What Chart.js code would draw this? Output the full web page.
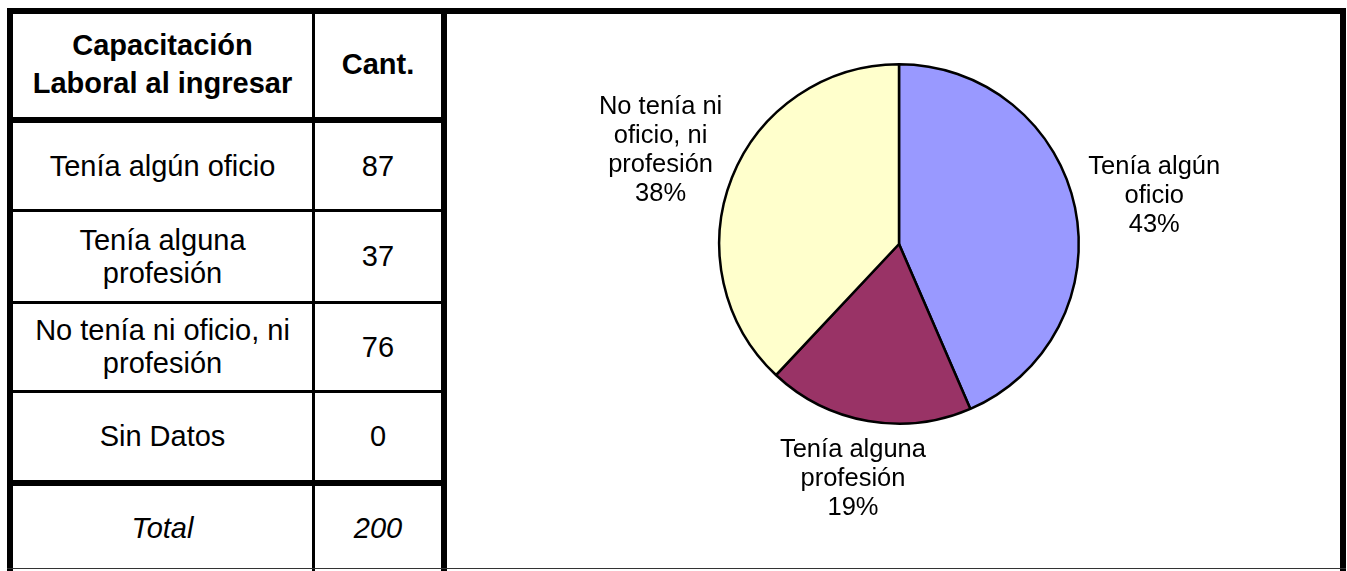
<!DOCTYPE html>
<html>
<head>
<meta charset="utf-8">
<script src="https://cdn.jsdelivr.net/npm/chart.js"></script>
<style>
body { margin: 0; background: #fff; font-family: "Liberation Sans", Arial, sans-serif; }
#hoja { position: relative; width: 1347px; height: 571px; overflow: hidden; background: #fff; }
.celda { position: absolute; display: flex; align-items: center; justify-content: center; text-align: center;
         font-size: 29px; line-height: 33px; color: #000; box-sizing: border-box; padding: 0 10px; }
.titulo { font-weight: bold; line-height: 38px; }
.total { font-style: italic; }
.linea { position: absolute; background: #000; }
#grafico { position: absolute; left: 447px; top: 14px; }
</style>
</head>
<body>
<div id="hoja">
  <canvas id="grafico" width="893" height="554"></canvas>
</div>
<script>
const encabezados = ["Capacitación Laboral al ingresar", "Cant."];
const categorias = ["Tenía algún oficio", "Tenía alguna profesión", "No tenía ni oficio, ni profesión", "Sin Datos"];
const cantidades = [87, 37, 76, 0];
const porcentajes = [43, 19, 38, 0];
const etiquetaTotal = "Total";
const total = 200;
const colores = ["#9999FF", "#993366", "#FFFFCC", "#CCFFFF"];

const hoja = document.getElementById('hoja');

// filas de la tabla (arriba, abajo)
const filas = [[14, 117], [123, 209], [212, 301], [304, 390], [393, 480], [486, 571]];
const col1 = [13, 312];
const col2 = [315, 441];

function celda(texto, x0, x1, y0, y1, clase) {
    const d = document.createElement('div');
    d.className = 'celda' + (clase ? ' ' + clase : '');
    d.style.left = x0 + 'px';
    d.style.top = y0 + 'px';
    d.style.width = (x1 - x0) + 'px';
    d.style.height = (y1 - y0) + 'px';
    d.textContent = texto;
    hoja.appendChild(d);
}

function linea(x, y, w, h, color) {
    const d = document.createElement('div');
    d.className = 'linea';
    d.style.left = x + 'px';
    d.style.top = y + 'px';
    d.style.width = w + 'px';
    d.style.height = h + 'px';
    if (color) d.style.background = color;
    hoja.appendChild(d);
}

celda(encabezados[0], col1[0], col1[1], filas[0][0], filas[0][1] - 3, 'titulo');
celda(encabezados[1], col2[0], col2[1], filas[0][0], filas[0][1] - 3, 'titulo');
categorias.forEach((c, i) => {
    celda(c, col1[0], col1[1], filas[i + 1][0], filas[i + 1][1]);
    celda(String(cantidades[i]), col2[0], col2[1], filas[i + 1][0], filas[i + 1][1]);
});
celda(etiquetaTotal, col1[0], col1[1], filas[5][0], filas[5][1], 'total');
celda(String(total), col2[0], col2[1], filas[5][0], filas[5][1], 'total');

// bordes
linea(7, 8, 1339, 6);
linea(7, 8, 6, 563);
linea(1340, 8, 6, 563);
linea(441, 8, 6, 563);
linea(312, 14, 3, 557);
linea(13, 117, 428, 6);
linea(13, 209, 428, 3);
linea(13, 301, 428, 3);
linea(13, 390, 428, 3);
linea(13, 480, 428, 6);
linea(7, 568, 1339, 1, '#333');

// parte el texto en lineas segun el ancho
function partir(ctx, texto, maximo) {
    const palabras = texto.split(' ');
    const lineas = [];
    let actual = '';
    palabras.forEach(p => {
        const prueba = actual ? actual + ' ' + p : p;
        if (actual && ctx.measureText(prueba).width > maximo) {
            lineas.push(actual);
            actual = p;
        } else {
            actual = prueba;
        }
    });
    if (actual) lineas.push(actual);
    return lineas;
}

const etiquetasPie = {
    id: 'etiquetasPie',
    afterDatasetsDraw(chart) {
        const ctx = chart.ctx;
        const meta = chart.getDatasetMeta(0);
        const alto = 29;
        ctx.save();
        ctx.font = '25.5px "Liberation Sans", Arial, sans-serif';
        ctx.fillStyle = '#000';
        ctx.textAlign = 'center';
        ctx.textBaseline = 'middle';
        meta.data.forEach((arco, i) => {
            if (!cantidades[i]) return;
            const p = arco.getProps(['x', 'y', 'startAngle', 'endAngle', 'outerRadius'], true);
            const medio = (p.startAngle + p.endAngle) / 2;
            const ux = Math.cos(medio), uy = Math.sin(medio);
            const lineas = partir(ctx, categorias[i], 155);
            lineas.push(porcentajes[i] + '%');
            const ancho = Math.max(...lineas.map(l => ctx.measureText(l).width));
            const h = lineas.length * alto;
            const r = p.outerRadius + 15;
            const cx = p.x + ux * r + ux * ancho / 2;
            const cy = p.y + uy * r + uy * h / 2;
            lineas.forEach((l, k) => {
                ctx.fillText(l, cx, cy - h / 2 + alto / 2 + k * alto);
            });
        });
        ctx.restore();
    }
};

new Chart(document.getElementById('grafico'), {
    type: 'pie',
    data: {
        labels: categorias,
        datasets: [{
            data: cantidades,
            backgroundColor: colores,
            borderColor: '#000',
            borderWidth: 2.5,
            hoverOffset: 0,
            offset: 0
        }]
    },
    options: {
        responsive: false,
        animation: false,
        events: [],
        layout: { padding: { top: 49, bottom: 143, left: 250, right: 239 } },
        plugins: {
            legend: { display: false },
            tooltip: { enabled: false }
        }
    },
    plugins: [etiquetasPie]
});
</script>
</body>
</html>
